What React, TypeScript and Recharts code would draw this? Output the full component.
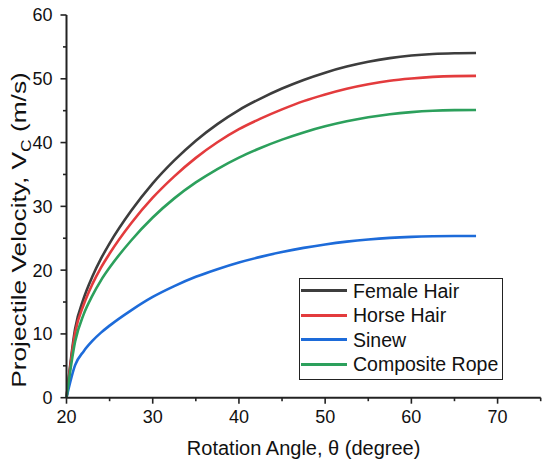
import React from "react";
import { LineChart, Line, XAxis, YAxis, Legend } from "recharts";

const angles = [20, 21, 22, 23, 24, 25, 27.5, 30, 32.5, 35, 37.5, 40, 42.5, 45, 47.5, 50, 52.5, 55, 57.5, 60, 62.5, 65, 67.5];
const femaleHair = [0, 10.8, 15.6, 19.0, 21.8, 24.2, 29.3, 33.6, 37.2, 40.3, 42.9, 45.1, 46.9, 48.47, 49.82, 50.96, 51.91, 52.67, 53.24, 53.64, 53.89, 54.01, 54.05];
const horseHair = [0, 10.2, 14.6, 17.8, 20.4, 22.6, 27.35, 31.35, 34.7, 37.6, 40.05, 42.1, 43.75, 45.2, 46.5, 47.55, 48.45, 49.15, 49.7, 50.05, 50.3, 50.42, 50.45];
const sinew = [0, 5.1, 7.3, 8.9, 10.2, 11.3, 13.7, 15.8, 17.5, 18.95, 20.15, 21.2, 22.08, 22.84, 23.49, 24.03, 24.47, 24.81, 25.06, 25.22, 25.31, 25.35, 25.36];
const compositeRope = [0, 8.8, 13.1, 16.0, 18.4, 20.4, 24.65, 28.25, 31.25, 33.75, 35.85, 37.65, 39.15, 40.46, 41.59, 42.54, 43.33, 43.96, 44.44, 44.77, 44.98, 45.08, 45.11];

const xTicks = [20, 25, 30, 35, 40, 45, 50, 55, 60, 65, 70, 75];
const yTicks = [0, 5, 10, 15, 20, 25, 30, 35, 40, 45, 50, 55, 60];

const seriesNames = ["Female Hair", "Horse Hair", "Sinew", "Composite Rope"];
const seriesKeys = ["female", "horse", "sinew", "composite"];
const seriesColors = ["#3d3d3d", "#e33b3d", "#1d6bd9", "#2ca05c"];

const data = angles.map((a, i) => ({
  angle: a,
  female: femaleHair[i],
  horse: horseHair[i],
  sinew: sinew[i],
  composite: compositeRope[i],
}));

const FONT = "'Liberation Sans', Arial, sans-serif";
const AXIS = "#222";

const isMajor = (v: number) => v % 10 === 0;

const BottomTick = (p: any) => {
  const { x, y, payload } = p;
  const maj = isMajor(payload.value);
  return (
    <g>
      <line x1={x} y1={y} x2={x} y2={y + (maj ? 6 : 3.5)} stroke={AXIS} strokeWidth={1.6} />
      {maj && payload.value !== 75 ? (
        <text x={x} y={y + 25} textAnchor="middle" fontFamily={FONT} fontSize={18} fill="#111">
          {payload.value}
        </text>
      ) : null}
    </g>
  );
};

const TopTick = (p: any) => {
  const { x, y, payload } = p;
  const maj = isMajor(payload.value);
  return <line x1={x} y1={y} x2={x} y2={y + (maj ? 6 : 3.5)} stroke={AXIS} strokeWidth={1.6} />;
};

const LeftTick = (p: any) => {
  const { x, y, payload } = p;
  const maj = isMajor(payload.value);
  return (
    <g>
      <line x1={x} y1={y} x2={x - (maj ? 6 : 3.5)} y2={y} stroke={AXIS} strokeWidth={1.6} />
      {maj ? (
        <text x={x - 14} y={y} dy="0.36em" textAnchor="end" fontFamily={FONT} fontSize={18} fill="#111">
          {payload.value}
        </text>
      ) : null}
    </g>
  );
};

const RightTick = (p: any) => {
  const { x, y, payload } = p;
  const maj = isMajor(payload.value);
  return <line x1={x} y1={y} x2={x - (maj ? 6 : 3.5)} y2={y} stroke={AXIS} strokeWidth={1.6} />;
};

const XTitle = (p: any) => {
  const vb = p.viewBox;
  return (
    <text x={vb.x + vb.width / 2} y={vb.y + 57.5} textAnchor="middle" fontFamily={FONT} fontSize={20} fill="#111">
      Rotation Angle, θ (degree)
    </text>
  );
};

const YTitle = () => {
  const cx = 18;
  const cy = 230;
  return (
    <text
      transform={`translate(${cx},${cy}) rotate(-90) scale(1.25,1)`}
      x={0}
      y={0}
      dy="0.36em"
      textAnchor="middle"
      fontFamily={FONT}
      fontSize={21}
      fill="#111"
    >
      Projectile Velocity, V
      <tspan fontSize={14} dy={5}>C</tspan>
      <tspan dy={-5}> (m/s)</tspan>
    </text>
  );
};

const LegendBox = (props: any) => {
  const payload = [...(props.payload || [])].sort(
    (a: any, b: any) => seriesNames.indexOf(a.value) - seriesNames.indexOf(b.value)
  );
  return (
    <div
      style={{
        width: 204,
        height: 102,
        boxSizing: "border-box",
        border: "1.5px solid #222",
        background: "#fff",
        paddingTop: 0,
        fontFamily: FONT,
      }}
    >
      {payload.map((e: any) => (
        <div key={e.value} style={{ display: "flex", alignItems: "center", height: 24.4 }}>
          <div style={{ width: 46, height: 3, background: e.color, marginLeft: 1 }} />
          <span style={{ marginLeft: 6, fontSize: 19.5, color: "#111", whiteSpace: "nowrap", lineHeight: "24px" }}>
            {e.value}
          </span>
        </div>
      ))}
    </div>
  );
};

export default function App() {
  return (
    <div style={{ width: 550, height: 467, margin: "-8px 0 0 -8px" }}>
      <LineChart width={550} height={467} data={data} margin={{ top: 15, right: 9.3, left: 0, bottom: 0 }}>
        <XAxis
          dataKey="angle"
          type="number"
          domain={[20, 75]}
          ticks={xTicks}
          interval={0}
          height={69.3}
          tickSize={0}
          tickMargin={0}
          tickLine={false}
          axisLine={{ stroke: AXIS, strokeWidth: 2 }}
          tick={BottomTick}
          label={<XTitle />}
        />
        <XAxis
          xAxisId="top"
          orientation="top"
          dataKey="angle"
          type="number"
          domain={[20, 75]}
          ticks={xTicks}
          interval={0}
          height={0}
          tickSize={0}
          tickMargin={0}
          tickLine={false}
          axisLine={{ stroke: AXIS, strokeWidth: 2 }}
          tick={TopTick}
        />
        <YAxis
          type="number"
          domain={[0, 60]}
          ticks={yTicks}
          interval={0}
          width={66.5}
          tickSize={0}
          tickMargin={0}
          tickLine={false}
          axisLine={{ stroke: AXIS, strokeWidth: 2 }}
          tick={LeftTick}
          label={<YTitle />}
        />
        <YAxis
          yAxisId="right"
          orientation="right"
          type="number"
          domain={[0, 60]}
          ticks={yTicks}
          interval={0}
          width={0}
          tickSize={0}
          tickMargin={0}
          tickLine={false}
          axisLine={{ stroke: AXIS, strokeWidth: 2 }}
          tick={RightTick}
        />
        {seriesKeys.map((k, i) => (
          <Line
            key={k}
            dataKey={k}
            name={seriesNames[i]}
            stroke={seriesColors[i]}
            strokeWidth={2.6}
            type="monotone"
            dot={false}
            activeDot={false}
            isAnimationActive={false}
          />
        ))}
        <Legend
          layout="vertical"
          align="center"
          verticalAlign="middle"
          wrapperStyle={{ left: 299, top: 277.7, width: 204 }}
          content={LegendBox}
        />
      </LineChart>
    </div>
  );
}
